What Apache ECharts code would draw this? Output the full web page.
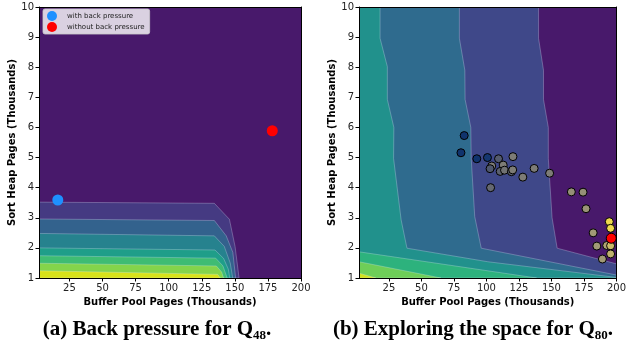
<!DOCTYPE html>
<html><head><meta charset="utf-8">
<script src="https://cdn.jsdelivr.net/npm/echarts@6/dist/echarts.min.js"></script>
<style>html,body{margin:0;padding:0;background:#fff}#c{width:629px;height:354px}</style>
</head><body><div id="c"></div>
<script>
// ---------- data ----------
const xRange = [2, 200];
const yRange = [1, 10];
const xTicks = [25, 50, 75, 100, 125, 150, 175, 200];

// (a) contour boundaries, outer level -> inner level (data units)
const leftBounds = [
  [[2,3.52],[134.5,3.48],[145.9,2.95],[150.2,2.04],[153.2,1.0]],
  [[2,2.96],[134.5,2.91],[143.5,2.40],[148.5,1.85],[150.6,1.0]],
  [[2,2.48],[134.5,2.40],[142,2.05],[146.5,1.5],[148.4,1.0]],
  [[2,2.00],[135,1.93],[141.5,1.65],[145,1.3],[146.2,1.0]],
  [[2,1.74],[135.5,1.66],[141,1.40],[144.2,1.0]],
  [[2,1.49],[136,1.40],[140,1.2],[141.5,1.0]],
  [[2,1.24],[137,1.12],[139,1.0]]
];
// (b) contour boundaries, outer level -> inner level (data units)
const rightBounds = [
  [[140.1,10],[140.1,8.96],[143.9,7.9],[143.9,6.93],[147.6,6.0],[147.6,4.97],[150.5,3.0],[154.4,1.99],[200,1.47]],
  [[79.2,10],[79.2,8.96],[83.4,7.9],[83.6,6.93],[88,6.0],[88.3,4.97],[91,3.04],[96,1.99],[200,1.1]],
  [[18.2,10],[18.2,8.96],[23.8,8.02],[23.8,6.93],[28.8,6.0],[28.6,4.97],[34.4,2.93],[38.9,1.99],[101,1.54],[200,1.02]],
  [[2,1.87],[138.6,1.0]],
  [[2,1.54],[65,1.0]],
  [[2,1.16],[15,1.0]]
];

const withBP = [[16.2, 3.59]];
const withoutBP = [[178.3, 5.89]];

// explored configurations: [buffer pool, sort heap, normalized score]
const explored = [
  [82.9,5.73,0.10],[80.4,5.16,0.10],[92.6,4.96,0.10],[100.8,5.00,0.12],
  [109.3,4.96,0.32],[120.4,5.03,0.50],[104.1,4.72,0.50],[102.8,4.63,0.30],
  [112.9,4.75,0.50],[110.6,4.54,0.35],[113.9,4.58,0.45],[119.2,4.53,0.35],
  [120.2,4.59,0.50],[128.0,4.35,0.50],[136.7,4.64,0.50],[148.6,4.48,0.50],
  [103.2,4.00,0.40],[165.3,3.86,0.60],[174.3,3.85,0.60],[176.6,3.30,0.62],
  [194.5,2.87,0.93],[195.5,2.65,0.93],[182.1,2.50,0.65],[184.9,2.06,0.65],
  [192.5,2.08,0.70],[195.5,2.07,0.80],[195.5,1.80,0.76],[189.2,1.63,0.65]
];
const best = [[196.0, 2.32]];

// ---------- styles ----------
const leftColors = ['#48196b','#453a82','#33628d','#26828e','#1f9e89','#3fbc73','#84d44b','#d8e219'];
const rightColors = ['#48196b','#3f4889','#2f6b8e','#21918c','#2db27d','#6ece58','#d0e11c'];
const cividis = ['#00224e','#123570','#3b496c','#575d6d','#707173','#8a8779','#a69d75','#c4b56c','#e4cf5b','#fee838'];
const FONT = 'DejaVu Sans';

function closePoly(b) {
  const pts = b.slice();
  const last = pts[pts.length-1], first = pts[0];
  if (last[0] >= xRange[1]) pts.push([xRange[1], yRange[0]]);
  pts.push([xRange[0], yRange[0]]);
  if (first[1] >= yRange[1]) pts.push([xRange[0], yRange[1]]);
  return pts;
}

function bandSeries(bounds, colors, gi) {
  return {
    type: 'custom', xAxisIndex: gi*2, yAxisIndex: gi*2, silent: true, z: 1,
    clip: true,
    data: bounds.map((b, i) => [i]),
    renderItem: function (params, api) {
      const i = params.dataIndex;
      const pts = closePoly(bounds[i]).map(p => api.coord(p));
      return { type: 'polygon', shape: { points: pts },
        style: { fill: colors[i+1], stroke: 'rgba(235,235,255,0.35)', lineWidth: 0.8 } };
    }
  };
}

function xAxes(gi) {
  return [{
    type: 'value', gridIndex: gi, min: xRange[0], max: xRange[1], z: 10,
    axisLine: { show: true, onZero: false, lineStyle: { color: '#000', width: 1 } },
    axisTick: { show: true, length: 3.5, customValues: xTicks, lineStyle: { color: '#000' } },
    axisLabel: { customValues: xTicks, fontSize: 10, color: '#222', margin: 5, fontFamily: FONT },
    splitLine: { show: false },
    name: 'Buffer Pool Pages (Thousands)', nameLocation: 'middle', nameGap: 17,
    nameTextStyle: { fontWeight: 'bold', fontSize: 10, color: '#000', fontFamily: FONT }
  }, {
    type: 'value', gridIndex: gi, position: 'top', min: xRange[0], max: xRange[1], z: 10,
    axisLine: { show: true, onZero: false, lineStyle: { color: '#000', width: 1 } },
    axisTick: { show: false }, axisLabel: { show: false }, splitLine: { show: false }
  }];
}
function yAxes(gi) {
  return [{
    type: 'value', gridIndex: gi, min: yRange[0], max: yRange[1], interval: 1, z: 10,
    axisLine: { show: true, onZero: false, lineStyle: { color: '#000', width: 1 } },
    axisTick: { show: true, length: 3.5, lineStyle: { color: '#000' } },
    axisLabel: { fontSize: 10, color: '#222', margin: 5, fontFamily: FONT },
    splitLine: { show: false },
    name: 'Sort Heap Pages (Thousands)', nameLocation: 'middle', nameGap: 19, nameRotate: 90,
    nameTextStyle: { fontWeight: 'bold', fontSize: 10, color: '#000', fontFamily: FONT }
  }, {
    type: 'value', gridIndex: gi, position: 'right', min: yRange[0], max: yRange[1], z: 10,
    axisLine: { show: true, onZero: false, lineStyle: { color: '#000', width: 1 } },
    axisTick: { show: false }, axisLabel: { show: false }, splitLine: { show: false }
  }];
}

const capRich = {
  m: { fontFamily: 'Liberation Serif', fontWeight: 'bold', fontSize: 21, lineHeight: 24, fill: '#000' },
  s: { fontFamily: 'Liberation Serif', fontWeight: 'bold', fontSize: 13, lineHeight: 13, verticalAlign: 'bottom', fill: '#000' }
};

const chart = echarts.init(document.getElementById('c'), null, { renderer: 'canvas' });
chart.setOption({
  animation: false,
  backgroundColor: '#fff',
  grid: [
    { left: 39, top: 7, width: 262, height: 271, show: true, backgroundColor: leftColors[0], borderWidth: 0 },
    { left: 359, top: 7, width: 262, height: 271, show: true, backgroundColor: rightColors[0], borderWidth: 0 }
  ],
  xAxis: [...xAxes(0), ...xAxes(1)],
  yAxis: [...yAxes(0), ...yAxes(1)],
  legend: {
    data: ['with back pressure', 'without back pressure'],
    orient: 'vertical', left: 43, top: 9, itemWidth: 10, itemHeight: 10, itemGap: 1,
    padding: [2, 5, 2, 4], icon: 'circle',
    backgroundColor: 'rgba(255,255,255,0.8)', borderColor: 'rgba(204,204,204,0.8)', borderWidth: 1, borderRadius: 2,
    textStyle: { fontSize: 7, color: '#222', fontFamily: FONT, padding: [0, 0, 0, 5] }
  },
  visualMap: {
    show: false, type: 'continuous', seriesIndex: 4, dimension: 2, min: 0, max: 1,
    inRange: { color: cividis }
  },
  series: [
    bandSeries(leftBounds, leftColors, 0),
    { name: 'with back pressure', type: 'scatter', xAxisIndex: 0, yAxisIndex: 0, data: withBP,
      symbolSize: 11, itemStyle: { color: '#1e90ff', opacity: 1 }, z: 5 },
    { name: 'without back pressure', type: 'scatter', xAxisIndex: 0, yAxisIndex: 0, data: withoutBP,
      symbolSize: 11, itemStyle: { color: '#ff0000', opacity: 1 }, z: 5 },
    bandSeries(rightBounds, rightColors, 1),
    { name: 'explored', type: 'scatter', xAxisIndex: 2, yAxisIndex: 2, data: explored,
      symbolSize: 8, itemStyle: { borderColor: '#000', borderWidth: 1, opacity: 1 }, z: 5 },
    { name: 'best', type: 'scatter', xAxisIndex: 2, yAxisIndex: 2, data: best,
      symbolSize: 10, itemStyle: { color: '#ff0000', borderColor: '#000', borderWidth: 1, opacity: 1 }, z: 6 }
  ],
  graphic: [
    { type: 'text', x: 157, y: 330, style: { text: '{m|(a) Back pressure for Q}{s|48}{m|.}', rich: capRich, align: 'center', verticalAlign: 'middle' } },
    { type: 'text', x: 473, y: 330, style: { text: '{m|(b) Exploring the space for Q}{s|80}{m|.}', rich: capRich, align: 'center', verticalAlign: 'middle' } }
  ]
});
</script></body></html>
